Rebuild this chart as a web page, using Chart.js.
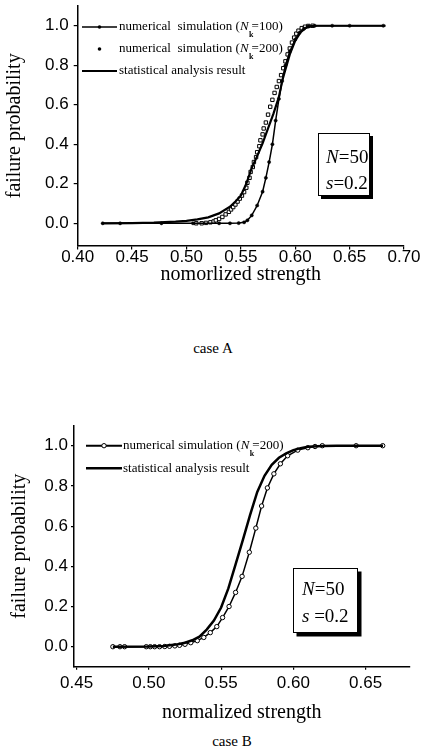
<!DOCTYPE html>
<html><head><meta charset="utf-8">
<script src="https://cdn.jsdelivr.net/npm/chart.js@4.4.0/dist/chart.umd.min.js"></script>
<style>
html,body{margin:0;padding:0;background:#fff;width:421px;height:752px;overflow:hidden;}
#wrapA{position:absolute;left:0;top:0;width:421px;height:290px;}
#wrapB{position:absolute;left:0;top:400px;width:421px;height:330px;}
canvas{display:block;}
.cap{position:absolute;font-family:"Liberation Serif","Times New Roman",serif;font-size:15px;color:#000;transform:translateX(-50%);white-space:nowrap;line-height:1;}
</style></head><body>
<div id="wrapA"><canvas id="cA" width="421" height="290" style="width:421px;height:290px"></canvas></div>
<div id="wrapB"><canvas id="cB" width="421" height="330" style="width:421px;height:330px"></canvas></div>
<div class="cap" style="left:213px;top:341px;">case A</div>
<div class="cap" style="left:232px;top:734px;">case B</div>
<script>
// ---------------- data: case A ----------------
const caseA_sim100_x = [0.423,0.439,0.477,0.506,0.530,0.540,0.548,0.553,0.556,0.560,0.565,0.570,0.573,0.576,0.579,0.582,0.585,0.588,0.591,0.595,0.600,0.604,0.608,0.612,0.618,0.634,0.650,0.681];
const caseA_sim100_y = [0,0,0,0,0,0,0.001,0.005,0.015,0.04,0.09,0.16,0.23,0.31,0.40,0.52,0.63,0.72,0.80,0.87,0.93,0.965,0.985,0.997,1.0,1.0,1.0,1.0];
const caseA_sim200_x = [0.509,0.514,0.518,0.522,0.525,0.527,0.530,0.533,0.536,0.539,0.541,0.543,0.545,0.547,0.549,0.551,0.553,0.555,0.556,0.558,0.559,0.561,0.562,0.564,0.565,0.567,0.568,0.570,0.571,0.573,0.575,0.577,0.579,0.581,0.583,0.585,0.587,0.589,0.591,0.593,0.595,0.597,0.599,0.601,0.603,0.606,0.609,0.612,0.616];
const caseA_sim200_y = [0,0,0.002,0.005,0.009,0.015,0.022,0.032,0.045,0.058,0.07,0.082,0.095,0.11,0.125,0.14,0.158,0.18,0.205,0.23,0.26,0.285,0.31,0.335,0.36,0.39,0.42,0.45,0.48,0.51,0.55,0.59,0.625,0.66,0.69,0.72,0.75,0.785,0.82,0.855,0.885,0.915,0.94,0.96,0.975,0.988,0.995,0.999,1.0];
const caseA_stat_x = [0.423,0.45,0.47,0.49,0.50,0.51,0.52,0.53,0.54,0.545,0.55,0.555,0.56,0.565,0.57,0.575,0.58,0.585,0.588,0.59,0.595,0.60,0.605,0.61,0.615,0.62,0.683];
const caseA_stat_y = [0,0.001,0.003,0.008,0.012,0.02,0.03,0.05,0.084,0.11,0.14,0.2,0.28,0.34,0.405,0.48,0.555,0.64,0.72,0.76,0.855,0.925,0.968,0.99,0.998,1.0,1.0];
const caseA_xTicks = [0.40,0.45,0.50,0.55,0.60,0.65,0.70];
// ---------------- data: case B ----------------
const caseB_sim200_x = [0.4751,0.480,0.4832,0.4982,0.501,0.504,0.5074,0.511,0.5143,0.518,0.5212,0.525,0.529,0.5335,0.538,0.5425,0.547,0.551,0.5555,0.560,0.5645,0.5695,0.574,0.578,0.582,0.5865,0.591,0.596,0.603,0.610,0.615,0.620,0.6434,0.6618];
const caseB_sim200_y = [0,0,0,0,0,0,0,0.001,0.002,0.004,0.007,0.012,0.02,0.03,0.046,0.07,0.1,0.145,0.2,0.27,0.35,0.47,0.59,0.7,0.79,0.86,0.91,0.95,0.978,0.99,0.996,1.0,1.0,1.0];
const caseB_stat_x = [0.4751,0.50,0.51,0.52,0.525,0.53,0.535,0.54,0.545,0.55,0.555,0.56,0.565,0.57,0.575,0.58,0.585,0.59,0.595,0.60,0.605,0.61,0.62,0.63,0.662];
const caseB_stat_y = [0,0.001,0.004,0.012,0.02,0.032,0.05,0.085,0.13,0.195,0.29,0.41,0.53,0.655,0.77,0.85,0.905,0.94,0.962,0.978,0.988,0.995,0.999,1.0,1.0];
const caseB_xTicks = [0.45,0.50,0.55,0.60,0.65];
const yTicks = [0.0,0.2,0.4,0.6,0.8,1.0];

const pts = (xs, ys) => xs.map((x, i) => ({x: x, y: ys[i]}));

function drawRich(ctx, parts, x, y, size) {
  for (const [t, st] of parts) {
    if (st === 'sub') {
      ctx.font = 'bold ' + Math.round(size * 0.62) + 'px "Liberation Serif"';
      ctx.fillText(t, x + 0.5, y + size * 0.6);
      x += 3;
    } else {
      ctx.font = (st === 'i' ? 'italic ' : '') + size + 'px "Liberation Serif"';
      ctx.fillText(t, x, y);
      x += ctx.measureText(t).width;
    }
  }
  return x;
}

const paperDecor = {
  id: 'paperDecor',
  afterDatasetsDraw(chart, args, o) {
    const ctx = chart.ctx;
    ctx.save();
    ctx.fillStyle = '#000'; ctx.strokeStyle = '#000';
    ctx.textBaseline = 'middle'; ctx.textAlign = 'left';
    const mid = (o.lx0 + o.lx1) / 2;
    for (const it of o.legend) {
      if (it.line) {
        ctx.lineWidth = it.lw; ctx.beginPath();
        ctx.moveTo(o.lx0, it.y); ctx.lineTo(o.lx1, it.y); ctx.stroke();
      }
      if (it.marker === 'dot') {
        ctx.beginPath(); ctx.arc(mid, it.y, it.r, 0, 2 * Math.PI); ctx.fill();
      } else if (it.marker === 'circle') {
        ctx.beginPath(); ctx.arc(mid, it.y, it.r, 0, 2 * Math.PI);
        ctx.fillStyle = '#fff'; ctx.fill(); ctx.lineWidth = 1; ctx.stroke(); ctx.fillStyle = '#000';
      }
      drawRich(ctx, it.text, o.tx, it.y, o.fs);
    }
    const b = o.box;
    ctx.fillStyle = '#000';
    ctx.fillRect(b.x + b.sh, b.y + b.sh, b.w, b.h);
    ctx.fillStyle = '#fff';
    ctx.fillRect(b.x, b.y, b.w, b.h);
    ctx.lineWidth = 1;
    ctx.strokeRect(b.x + 0.5, b.y + 0.5, b.w - 1, b.h - 1);
    ctx.fillStyle = '#000';
    b.lines.forEach((ln, i) => drawRich(ctx, ln, b.tx, b.ty[i], b.fs));
    ctx.restore();
  }
};

function makeOptions(o) {
  return {
    responsive: false, animation: false, devicePixelRatio: 1,
    layout: {padding: {top: o.padTop, right: o.padRight, left: 0, bottom: 0}},
    plugins: {legend: {display: false}, tooltip: {enabled: false}, paperDecor: o.decor},
    elements: {line: {tension: 0}},
    scales: {
      x: {
        type: 'linear', position: 'bottom', min: o.xMin, max: o.xMax,
        afterBuildTicks: s => { s.ticks = o.xTicks.map(v => ({value: v})); },
        afterFit: s => { s.height = o.xH; s.paddingLeft = 0; s.paddingRight = 0; },
        ticks: {callback: v => Number(v).toFixed(2), color: '#000', font: {family: '"Liberation Sans"', size: 17, lineHeight: 1}, padding: o.xPad, maxRotation: 0, autoSkip: false},
        grid: {display: true, drawOnChartArea: false, drawTicks: true, tickLength: o.tl, color: '#000', lineWidth: 1.2},
        border: {display: true, color: '#000', width: 1.5},
        title: {display: true, text: o.xTitle, color: '#000', font: {family: '"Liberation Serif"', size: 20, lineHeight: 1.2}, padding: {top: 0, bottom: o.xTitlePad}}
      },
      y: {
        type: 'linear', position: 'left', min: o.yMin, max: o.yMax,
        afterBuildTicks: s => { s.ticks = yTicks.map(v => ({value: v})); },
        afterFit: s => { s.width = o.yW; s.paddingTop = 0; s.paddingBottom = 0; },
        ticks: {callback: v => Number(v).toFixed(1), color: '#000', font: {family: '"Liberation Sans"', size: 17, lineHeight: 1}, padding: o.yPad, autoSkip: false},
        grid: {display: true, drawOnChartArea: false, drawTicks: true, tickLength: o.tl, color: '#000', lineWidth: 1.2},
        border: {display: true, color: '#000', width: 1.5},
        title: {display: true, text: 'failure probability', color: '#000', font: {family: '"Liberation Serif"', size: 20, lineHeight: 1.2}, padding: {top: o.yTitlePad, bottom: 0}}
      }
    }
  };
}

new Chart(document.getElementById('cA'), {
  type: 'scatter',
  data: {datasets: [
    {label: 'statistical analysis result', data: pts(caseA_stat_x, caseA_stat_y), showLine: true, borderColor: '#000', borderWidth: 2.2, pointRadius: 0},
    {label: 'numerical simulation (Nk=100)', data: pts(caseA_sim100_x, caseA_sim100_y), showLine: true, borderColor: '#000', borderWidth: 1.5, pointRadius: 1.6, pointBackgroundColor: '#000', pointBorderColor: '#000', pointBorderWidth: 0.5},
    {label: 'numerical simulation (Nk=200)', data: pts(caseA_sim200_x, caseA_sim200_y), showLine: false, pointStyle: 'rect', pointRadius: 2.4, pointBackgroundColor: '#fff', pointBorderColor: '#000', pointBorderWidth: 1}
  ]},
  options: makeOptions({
    padTop: 6, padRight: 17, xMin: 0.40, xMax: 0.70, yMin: -0.113, yMax: 1.1,
    xTicks: caseA_xTicks, xH: 44.4, yW: 77.7, tl: 4, xPad: -1, yPad: 5,
    xTitle: 'nomorlized strength', xTitlePad: 3, yTitlePad: 3,
    decor: {
      lx0: 82, lx1: 117, tx: 119, fs: 13,
      legend: [
        {y: 27, line: true, lw: 1.5, marker: 'dot', r: 1.8, text: [['numerical  simulation (', 'n'], ['N', 'i'], ['k', 'sub'], ['=100)', 'n']]},
        {y: 49, line: false, marker: 'dot', r: 1.8, text: [['numerical  simulation (', 'n'], ['N', 'i'], ['k', 'sub'], ['=200)', 'n']]},
        {y: 71, line: true, lw: 2.2, text: [['statistical analysis result', 'n']]}
      ],
      box: {x: 318, y: 133, w: 52, h: 63, sh: 3, tx: 326, ty: [158, 184], fs: 19,
        lines: [[['N', 'i'], ['=50', 'n']], [['s', 'i'], ['=0.2', 'n']]]}
    }
  }),
  plugins: [paperDecor]
});

new Chart(document.getElementById('cB'), {
  type: 'scatter',
  data: {datasets: [
    {label: 'statistical analysis result', data: pts(caseB_stat_x, caseB_stat_y), showLine: true, borderColor: '#000', borderWidth: 2.5, pointRadius: 0},
    {label: 'numerical simulation (Nk=200)', data: pts(caseB_sim200_x, caseB_sim200_y), showLine: true, borderColor: '#000', borderWidth: 1.5, pointStyle: 'circle', pointRadius: 2.2, pointBackgroundColor: '#fff', pointBorderColor: '#000', pointBorderWidth: 1}
  ]},
  options: makeOptions({
    padTop: 25.6, padRight: 11.4, xMin: 0.4482, xMax: 0.6804, yMin: -0.1, yMax: 1.1,
    xTicks: caseB_xTicks, xH: 63.2, yW: 74, tl: 3, xPad: 5, yPad: 3,
    xTitle: 'normalized strength', xTitlePad: 5, yTitlePad: 8,
    decor: {
      lx0: 86, lx1: 122, tx: 123, fs: 13,
      legend: [
        {y: 45.7, line: true, lw: 2, marker: 'circle', r: 2.2, text: [['numerical simulation (', 'n'], ['N', 'i'], ['k', 'sub'], ['=200)', 'n']]},
        {y: 68.3, line: true, lw: 2.5, text: [['statistical analysis result', 'n']]}
      ],
      box: {x: 293, y: 168, w: 65, h: 65, sh: 3.5, tx: 302, ty: [190, 217], fs: 19,
        lines: [[['N', 'i'], ['=50', 'n']], [['s', 'i'], [' =0.2', 'n']]]}
    }
  }),
  plugins: [paperDecor]
});
</script>
</body></html>
